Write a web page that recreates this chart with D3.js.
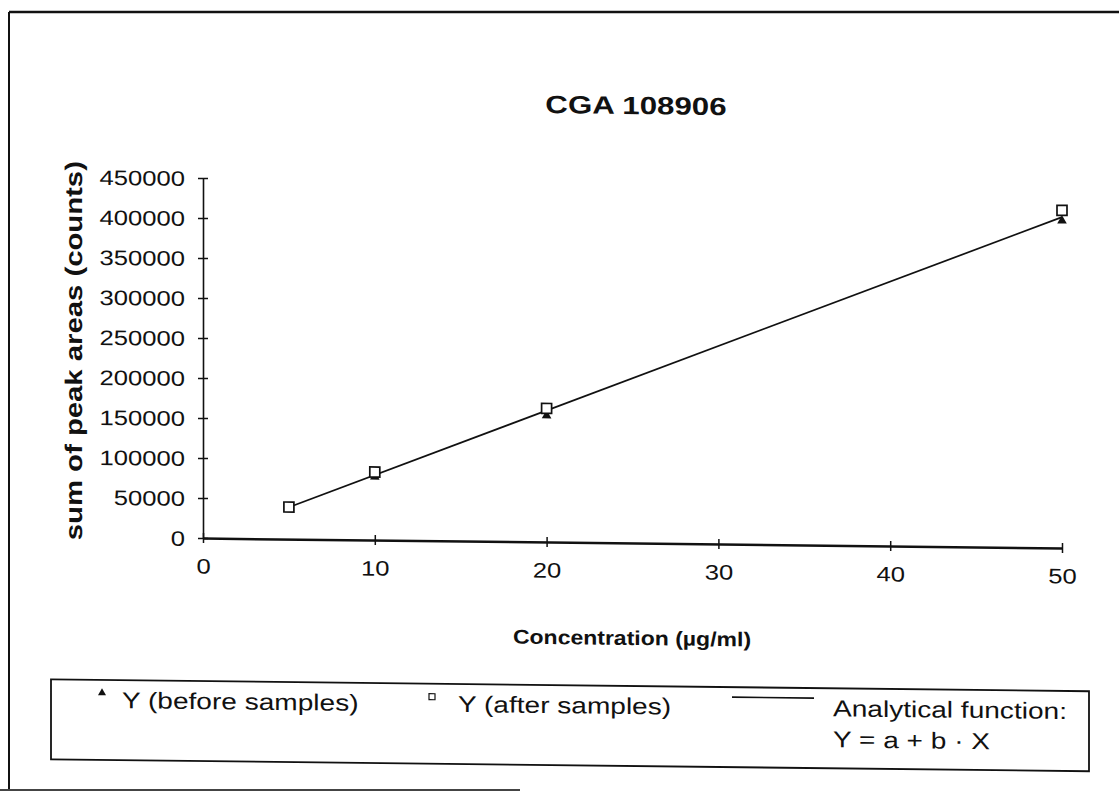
<!DOCTYPE html>
<html>
  <head>
    <script src="https://d3js.org/d3.v7.min.js"></script>
    <style>
      body { margin: 0; background: #fff; }
      svg { font-family: "Liberation Sans", Arial, sans-serif; }
    </style>
  </head>
  <body>
    <svg id="chart" width="1119" height="799"></svg>
    <script>
      // values
      const concentrations = [5, 10, 20, 50];
      const beforeSamples = [39000, 79000, 158000, 409000];
      const afterSamples = [40000, 85000, 167000, 422000];
      const fitX = [5, 50];
      const fitY = [39800, 413500];
      const xTicks = [0, 10, 20, 30, 40, 50];
      const yTicks = [0, 50000, 100000, 150000, 200000, 250000, 300000, 350000, 400000, 450000];
      const legendLabels = ["Y (before samples)", "Y (after samples)", "Analytical function:", "Y = a + b \u00b7 X"];

      // the scanned printout uses a wider face than Arial
      const SX = 1.22;
      const widen = function(sel, f) {
        sel.each(function() {
          const w = this.getComputedTextLength();
          d3.select(this).attr("textLength", w * (f || SX)).attr("lengthAdjust", "spacingAndGlyphs");
        });
      };

      let svg = d3.select("#chart");

      // outer frame of the page
      svg.append("line").attr("x1", 9).attr("x2", 9).attr("y1", 12).attr("y2", 790)
        .attr("stroke", "#111").attr("stroke-width", 2);
      svg.append("line").attr("x1", 9).attr("x2", 1119).attr("y1", 12).attr("y2", 12)
        .attr("stroke", "#111").attr("stroke-width", 2.5);
      svg.append("line").attr("x1", 0).attr("x2", 520).attr("y1", 790).attr("y2", 790)
        .attr("stroke", "#444").attr("stroke-width", 2);

      // the scan is slightly sheared: right side sits lower
      const shear = 0.0115;
      const chart = svg.append("g")
        .attr("transform", `translate(0,${-shear * 632}) skewY(${Math.atan(shear) * 180 / Math.PI})`);

      let xScale = d3.scaleLinear().domain([0, 50]).range([203, 1062]);
      let yScale = d3.scaleLinear().domain([0, 450000]).range([543, 183]);

      // title
      chart.append("text")
        .attr("x", 636).attr("y", 114)
        .attr("text-anchor", "middle")
        .attr("fill", "#111")
        .style("font-size", "25px")
        .style("font-weight", "bold")
        .text("CGA 108906")
        .call(widen, 1.25);

      // y axis
      let leftAxis = d3.axisLeft(yScale)
        .tickValues(yTicks)
        .tickSize(5)
        .tickSizeOuter(0)
        .tickFormat(d => d);
      let yAxisG = chart.append("g")
        .attr("transform", "translate(203,0)")
        .call(leftAxis);
      yAxisG.select(".domain").attr("stroke", "#111").attr("stroke-width", 1.6);
      yAxisG.selectAll(".tick line").attr("x1", 5).attr("x2", -5).attr("stroke", "#111").attr("stroke-width", 1.5);
      yAxisG.selectAll(".tick text")
        .attr("x", -18)
        .attr("dy", "0.36em")
        .attr("fill", "#111")
        .style("font-size", "21px")
        .call(widen);

      // x axis
      let bottomAxis = d3.axisBottom(xScale)
        .tickValues(xTicks)
        .tickSize(5)
        .tickSizeOuter(0);
      let xAxisG = chart.append("g")
        .attr("transform", "translate(0,543)")
        .call(bottomAxis);
      xAxisG.select(".domain").attr("stroke", "#111").attr("stroke-width", 2.5);
      xAxisG.selectAll(".tick line").attr("y1", -5).attr("y2", 5).attr("stroke", "#111").attr("stroke-width", 1.5);
      xAxisG.selectAll(".tick text")
        .attr("y", 28)
        .attr("dy", "0.36em")
        .attr("fill", "#111")
        .style("font-size", "21px")
        .call(widen);

      // axis titles
      chart.append("text")
        .attr("x", 632).attr("y", 645)
        .attr("text-anchor", "middle")
        .attr("fill", "#111")
        .style("font-size", "20px")
        .style("font-weight", "bold")
        .text("Concentration (\u00b5g/ml)")
        .call(widen, 1.15);
      chart.append("text")
        .attr("transform", "translate(82,357) rotate(-90)")
        .attr("text-anchor", "middle")
        .attr("fill", "#111")
        .style("font-size", "24px")
        .style("font-weight", "bold")
        .text("sum of peak areas (counts)")
        .call(widen);

      // analytical function line
      let line = d3.line().x(d => xScale(d[0])).y(d => yScale(d[1]));
      chart.append("path")
        .datum(d3.zip(fitX, fitY))
        .attr("d", line)
        .attr("fill", "none")
        .attr("stroke", "#111")
        .attr("stroke-width", 1.7);

      // before samples: filled triangles
      let tri = d3.symbol().type(d3.symbolTriangle).size(40);
      chart.selectAll("path.before").data(d3.zip(concentrations, beforeSamples))
        .join("path")
        .attr("class", "before")
        .attr("transform", d => `translate(${xScale(d[0])},${yScale(d[1])})`)
        .attr("d", tri)
        .attr("fill", "#111");

      // after samples: open squares
      chart.selectAll("rect.after").data(d3.zip(concentrations, afterSamples))
        .join("rect")
        .attr("class", "after")
        .attr("x", d => xScale(d[0]) - 5)
        .attr("y", d => yScale(d[1]) - 5)
        .attr("width", 10)
        .attr("height", 10)
        .attr("fill", "#fff")
        .attr("stroke", "#111")
        .attr("stroke-width", 1.7);

      // legend
      let legend = chart.append("g");
      legend.append("rect")
        .attr("x", 51).attr("y", 686)
        .attr("width", 1038).attr("height", 80)
        .attr("fill", "none")
        .attr("stroke", "#111")
        .attr("stroke-width", 1.8);
      legend.append("path")
        .attr("transform", "translate(102,699)")
        .attr("d", d3.symbol().type(d3.symbolTriangle).size(28))
        .attr("fill", "#111");
      legend.append("rect")
        .attr("x", 429).attr("y", 696)
        .attr("width", 6).attr("height", 6)
        .attr("fill", "#fff")
        .attr("stroke", "#111")
        .attr("stroke-width", 1.2);
      legend.append("line")
        .attr("x1", 732).attr("x2", 814)
        .attr("y1", 696).attr("y2", 696)
        .attr("stroke", "#111")
        .attr("stroke-width", 1.6);
      let legendPos = [[122, 714], [458, 714], [833, 714], [833, 745]];
      legend.selectAll("text").data(legendLabels)
        .join("text")
        .attr("x", (d, i) => legendPos[i][0])
        .attr("y", (d, i) => legendPos[i][1])
        .attr("fill", "#111")
        .style("font-size", "23px")
        .text(d => d)
        .call(widen, 1.22);
    </script>
  </body>
</html>
